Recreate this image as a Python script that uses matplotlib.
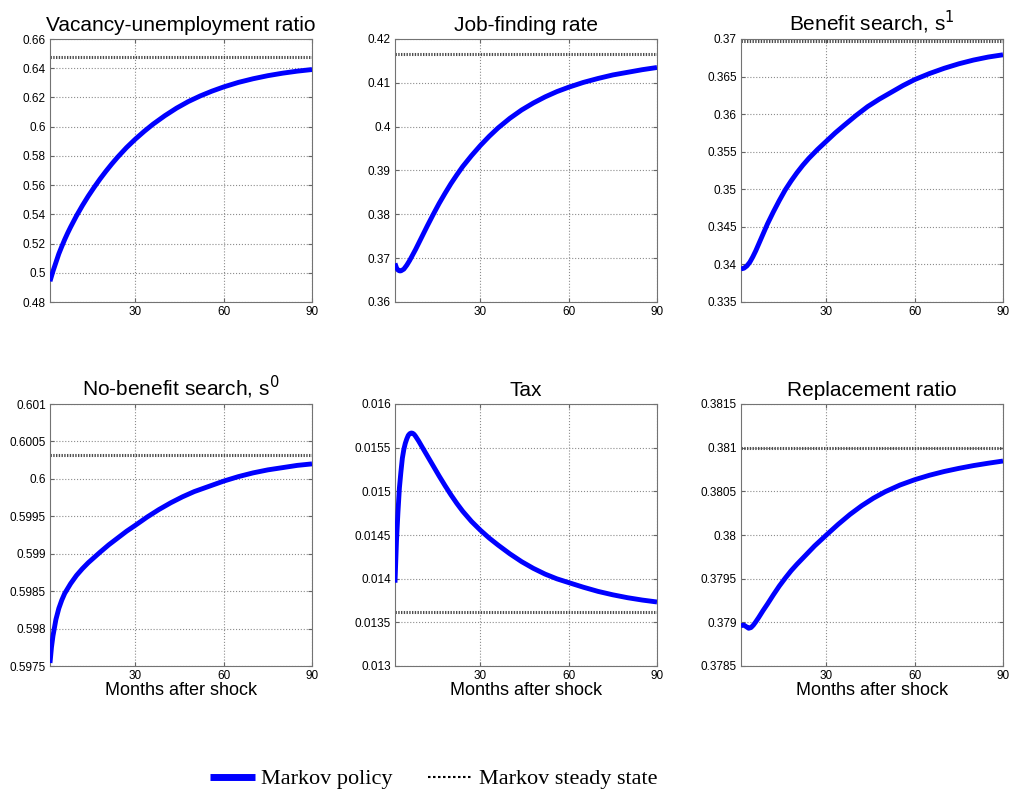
import matplotlib
matplotlib.use("Agg")
import matplotlib.pyplot as plt

# values, months after shock
vu_months = [1, 2, 3, 4, 5, 6, 7, 8, 10, 12, 14, 16, 18, 20, 22, 24, 27, 30,
             33, 36, 40, 44, 48, 52, 56, 60, 65, 70, 75, 80, 85, 90]
vu_values = [0.4942, 0.5010, 0.5070, 0.5130, 0.5180, 0.5228, 0.5272, 0.5313,
             0.5390, 0.5460, 0.5525, 0.5585, 0.5642, 0.5695, 0.5745, 0.5792,
             0.5857, 0.5915, 0.5968, 0.6017, 0.6075, 0.6127, 0.6172, 0.6210,
             0.6243, 0.6272, 0.6303, 0.6328, 0.6349, 0.6366, 0.6380, 0.6391]
vu_steady = 0.6474

jf_months = [1, 1.5, 2, 2.5, 3, 4, 5, 6, 8, 10, 12, 14, 16, 18, 20, 22, 24,
             27, 30, 33, 36, 40, 44, 48, 52, 56, 60, 65, 70, 75, 80, 85, 90]
jf_values = [0.3688, 0.3678, 0.3673, 0.3671, 0.3671, 0.3675, 0.3684, 0.3695,
             0.3720, 0.3747, 0.3774, 0.3800, 0.3825, 0.3848, 0.3870, 0.3890,
             0.3909, 0.3934, 0.3957, 0.3978, 0.3997, 0.4019, 0.4038, 0.4054,
             0.4068, 0.4080, 0.4090, 0.4101, 0.4110, 0.4118, 0.4124, 0.4130,
             0.4135]
jf_steady = 0.41657

s1_months = [1, 2, 3, 4, 5, 6, 7, 8, 10, 12, 14, 16, 18, 20, 22, 24, 27, 30,
             33, 36, 40, 44, 48, 52, 56, 60, 65, 70, 75, 80, 85, 90]
s1_values = [0.3394, 0.3395, 0.3398, 0.3403, 0.3410, 0.3418, 0.3427, 0.3436,
             0.3454, 0.3470, 0.3485, 0.3499, 0.3511, 0.3522, 0.3532, 0.3541,
             0.3553, 0.3564, 0.3575, 0.3585, 0.3598, 0.3610, 0.3620, 0.3629,
             0.3638, 0.3646, 0.3654, 0.3661, 0.3667, 0.3672, 0.3676, 0.3679]
s1_steady = 0.36973

s0_months = [1, 1.5, 2, 3, 4, 5, 6, 8, 10, 12, 14, 16, 18, 21, 24, 27, 30,
             34, 38, 42, 46, 50, 55, 60, 65, 70, 75, 80, 85, 90]
s0_values = [0.59754, 0.59775, 0.59790, 0.59812, 0.59827, 0.59838, 0.59847,
             0.59860, 0.59871, 0.59880, 0.59888, 0.59895, 0.59902, 0.59912,
             0.59921, 0.59930, 0.59938, 0.59949, 0.59959, 0.59968, 0.59976,
             0.59983, 0.59990, 0.59997, 0.60003, 0.60008, 0.60012, 0.60015,
             0.60018, 0.60020]
s0_steady = 0.600325

tax_months = [1, 1.5, 2, 2.5, 3, 3.5, 4, 4.5, 5, 5.5, 6, 6.5, 7, 7.5, 8, 9,
              10, 12, 14, 16, 18, 20, 22, 24, 27, 30, 33, 36, 40, 44, 48, 52,
              56, 60, 65, 70, 75, 80, 85, 90]
tax_values = [0.013954, 0.01443, 0.01476, 0.01504, 0.01522, 0.01538, 0.01548,
              0.01555, 0.01560, 0.01564, 0.015660, 0.015668, 0.015665,
              0.015652, 0.015630, 0.015578, 0.015520, 0.015405, 0.015290,
              0.015175, 0.015065, 0.014960, 0.014862, 0.014772, 0.014655,
              0.014555, 0.014465, 0.014385, 0.014285, 0.014195, 0.014118,
              0.014052, 0.013998, 0.013955, 0.013902, 0.013854, 0.013815,
              0.013782, 0.013755, 0.013733]
tax_steady = 0.013615

rr_months = [1, 2, 2.8, 3.6, 4.4, 5.2, 6, 7, 8.5, 10, 12, 14, 16, 18, 20, 23,
             26, 30, 34, 38, 42, 46, 50, 55, 60, 65, 70, 75, 80, 85, 90]
rr_values = [0.378962, 0.378968, 0.378950, 0.378932, 0.378940, 0.378968,
             0.379005, 0.379055, 0.379135, 0.379210, 0.379315, 0.379415,
             0.379505, 0.379590, 0.379665, 0.379770, 0.379875, 0.380000,
             0.380122, 0.380235, 0.380335, 0.380422, 0.380496, 0.380572,
             0.380633, 0.380684, 0.380727, 0.380763, 0.380795, 0.380822,
             0.380847]
rr_steady = 0.380993

titles = ["Vacancy-unemployment ratio", "Job-finding rate",
          "Benefit search, s$^1$", "No-benefit search, s$^0$", "Tax",
          "Replacement ratio"]

yticks = [
    [0.48, 0.50, 0.52, 0.54, 0.56, 0.58, 0.60, 0.62, 0.64, 0.66],
    [0.36, 0.37, 0.38, 0.39, 0.40, 0.41, 0.42],
    [0.335, 0.34, 0.345, 0.35, 0.355, 0.36, 0.365, 0.37],
    [0.5975, 0.598, 0.5985, 0.599, 0.5995, 0.6, 0.6005, 0.601],
    [0.013, 0.0135, 0.014, 0.0145, 0.015, 0.0155, 0.016],
    [0.3785, 0.379, 0.3795, 0.38, 0.3805, 0.381, 0.3815],
]
xticks = [30, 60, 90]

panels = [
    (vu_months, vu_values, vu_steady),
    (jf_months, jf_values, jf_steady),
    (s1_months, s1_values, s1_steady),
    (s0_months, s0_values, s0_steady),
    (tax_months, tax_values, tax_steady),
    (rr_months, rr_values, rr_steady),
]

fig = plt.figure(figsize=(10.13, 7.97), dpi=100)
plt.rcParams["font.family"] = ["Liberation Sans", "DejaVu Sans"]

lefts = [50, 395, 741]
rows = [(302, 263), (666, 262)]  # bottom pixel, height

for i, (months, values, steady) in enumerate(panels):
    r, c = divmod(i, 3)
    bottom_px, height_px = rows[r]
    ax = fig.add_axes([lefts[c] / 1013, (797 - bottom_px) / 797,
                       262 / 1013, height_px / 797])
    ax.plot(months, values, color="#0000ff", linewidth=3.5,
            solid_capstyle="butt", solid_joinstyle="round",
            label="Markov policy", zorder=3)
    ax.plot([1, 90], [steady, steady], color="0.3", linewidth=2.2,
            dashes=(0.45, 0.45), label="Markov steady state", zorder=2)
    ax.set_xlim(1, 90)
    ax.set_ylim(yticks[i][0], yticks[i][-1])
    ax.set_xticks(xticks)
    ax.set_xticklabels([str(t) for t in xticks])
    ax.set_yticks(yticks[i])
    ax.set_yticklabels(["%g" % t for t in yticks[i]])
    ax.grid(True, linestyle=":", color="0.55", linewidth=0.8)
    ax.tick_params(direction="in", top=True, right=True, length=3,
                   labelsize=8.5, color="0.4", pad=3)
    for sp in ax.spines.values():
        sp.set_color("0.45")
    ax.set_title(titles[i], fontsize=15, pad=6)
    if r == 1:
        ax.set_xlabel("Months after shock", fontsize=13, labelpad=0)

handles, labels = ax.get_legend_handles_labels()
leg = fig.legend(handles, labels, loc="center", ncol=2, frameon=False,
                 bbox_to_anchor=(434 / 1013, 18 / 797),
                 prop={"family": "Liberation Serif", "size": 16},
                 handlelength=2.0, handletextpad=0.3, columnspacing=1.6)
leg.get_lines()[0].set_linewidth(5)
leg.get_lines()[1].set_color("black")
leg.get_lines()[1].set_linewidth(1.5)
leg.get_lines()[1].set_dashes((1.2, 1.2))

fig.savefig("out.png", dpi=100)
